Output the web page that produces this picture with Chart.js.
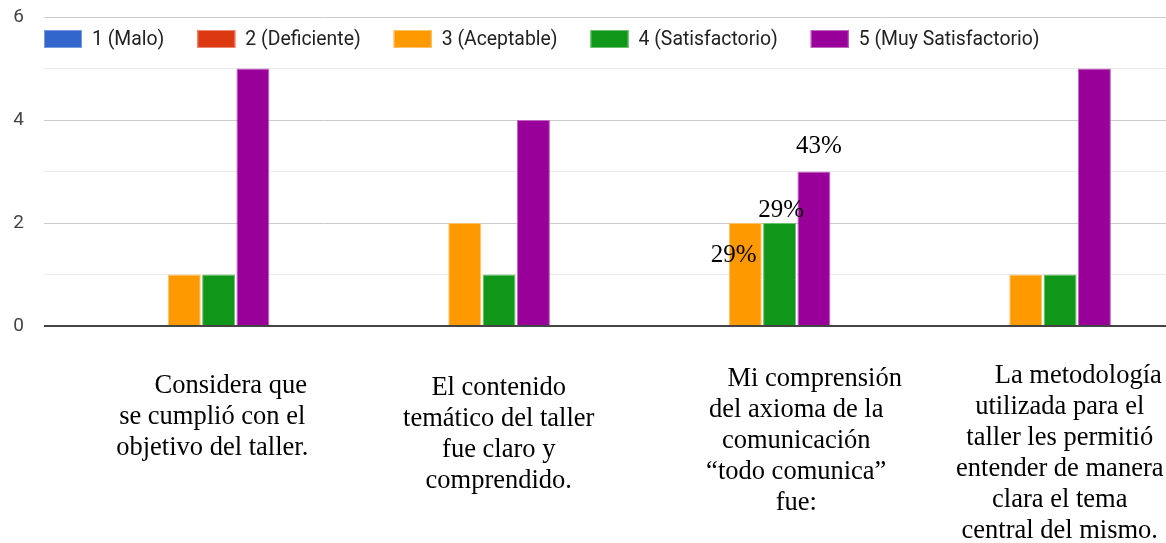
<!DOCTYPE html>
<html><head><meta charset="utf-8">
<script src="https://cdn.jsdelivr.net/npm/chart.js@4/dist/chart.umd.min.js"></script>
<style>html,body{margin:0;padding:0;background:#fff;overflow:hidden}</style>
</head><body>
<canvas id="c" width="1166" height="543"></canvas>
<script>
// ---- data ----
const categories = [
  ['Considera que', 'se cumplió con el', 'objetivo del taller.'],
  ['El contenido', 'temático del taller', 'fue claro y', 'comprendido.'],
  ['Mi comprensión', 'del axioma de la', 'comunicación', '“todo comunica”', 'fue:'],
  ['La metodología', 'utilizada para el', 'taller les permitió', 'entender de manera', 'clara el tema', 'central del mismo.']
];
const seriesNames = ['1 (Malo)', '2 (Deficiente)', '3 (Aceptable)', '4 (Satisfactorio)', '5 (Muy Satisfactorio)'];
const malo = [0, 0, 0, 0];
const deficiente = [0, 0, 0, 0];
const aceptable = [1, 2, 2, 1];
const satisfactorio = [1, 1, 2, 1];
const muySatisfactorio = [5, 4, 3, 5];
const yTickLabels = [0, 2, 4, 6];
// which bars carry a percentage label: [category index, series index]
const percentBars = [[2, 2], [2, 3], [2, 4]];

// ---- styles / layout ----
const colors = ['#3366cc', '#dc3912', '#ff9900', '#109618', '#990099'];
const borders = ['#7a9be0', '#ee8a75', '#ffc266', '#6cc270', '#c266c2'];
const catDx = [28, 34, 51, 34];
const catTop = [386, 388, 379, 376];
const catIndent = [37, 0, 37, 37];
const catLineH = 31;
const pctOffsets = [[-11.5, 32], [1.5, -12.5], [5, -25.5]];

const seriesValues = [malo, deficiente, aceptable, satisfactorio, muySatisfactorio];

const legendPlugin = {
  id: 'customLegend',
  afterDraw(chart) {
    const ctx = chart.ctx;
    ctx.save();
    ctx.font = '19.4px Roboto';
    ctx.textBaseline = 'middle';
    ctx.textAlign = 'left';
    let x = chart.chartArea.left;
    const y = 30, h = 18, w = 38;
    seriesNames.forEach((name, i) => {
      ctx.fillStyle = colors[i];
      ctx.fillRect(x, y, w, h);
      ctx.strokeStyle = borders[i];
      ctx.lineWidth = 1;
      ctx.strokeRect(x + 0.5, y + 0.5, w - 1, h - 1);
      x += w + 10;
      ctx.fillStyle = '#222';
      ctx.fillText(name, x, y + h / 2 + 1);
      x += ctx.measureText(name).width + 33;
    });
    ctx.restore();
  }
};

const catLabelPlugin = {
  id: 'catLabels',
  afterDraw(chart) {
    const ctx = chart.ctx;
    const xs = chart.scales.x;
    ctx.save();
    ctx.font = '26.5px "Liberation Serif", "Times New Roman", serif';
    ctx.textBaseline = 'middle';
    ctx.textAlign = 'center';
    ctx.fillStyle = '#000';
    categories.forEach((lines, i) => {
      const cx = xs.getPixelForValue(i) + catDx[i];
      lines.forEach((line, k) => {
        const shift = k === 0 ? catIndent[i] / 2 : 0;
        ctx.fillText(line, cx + shift, catTop[i] + k * catLineH);
      });
    });
    ctx.restore();
  }
};

const pctPlugin = {
  id: 'pctLabels',
  afterDatasetsDraw(chart) {
    const ctx = chart.ctx;
    ctx.save();
    ctx.font = '25px "Liberation Serif", "Times New Roman", serif';
    ctx.textBaseline = 'middle';
    ctx.textAlign = 'center';
    ctx.fillStyle = '#000';
    percentBars.forEach(([c, s], j) => {
      const total = seriesValues.reduce((a, arr) => a + arr[c], 0);
      const v = seriesValues[s][c];
      const el = chart.getDatasetMeta(s).data[c];
      const txt = Math.round(v / total * 100) + '%';
      ctx.fillText(txt, el.x + pctOffsets[j][0], el.y + pctOffsets[j][1]);
    });
    ctx.restore();
  }
};

new Chart(document.getElementById('c'), {
  type: 'bar',
  data: {
    labels: categories,
    datasets: seriesNames.map((name, i) => ({
      label: name,
      data: seriesValues[i],
      backgroundColor: colors[i],
      borderColor: borders[i],
      borderWidth: (c) => (c.raw ? 1 : 0),
      barPercentage: 0.96,
      categoryPercentage: 0.612
    }))
  },
  options: {
    responsive: false,
    devicePixelRatio: 1,
    animation: false,
    layout: { padding: { left: 13, top: 17, right: 0, bottom: 217 } },
    plugins: { legend: { display: false }, tooltip: { enabled: false } },
    scales: {
      x: {
        grid: { display: false, drawTicks: false },
        border: { display: false },
        ticks: { display: false }
      },
      y: {
        min: 0, max: 6,
        border: { display: false },
        afterFit: (s) => { s.width = 31; s.paddingTop = 0; s.paddingBottom = 0; },
        grid: {
          drawTicks: false,
          color: (c) => c.tick.value === 0 ? '#444' : (c.tick.value % 2 === 0 ? '#cccccc' : '#ebebeb'),
          lineWidth: (c) => c.tick.value === 0 ? 2 : 1
        },
        ticks: {
          stepSize: 1,
          padding: 20,
          color: '#444',
          font: { family: 'Roboto', size: 19 },
          callback: (v) => yTickLabels.includes(v) ? String(v) : ''
        }
      }
    }
  },
  plugins: [legendPlugin, catLabelPlugin, pctPlugin]
});
</script>
</body></html>
